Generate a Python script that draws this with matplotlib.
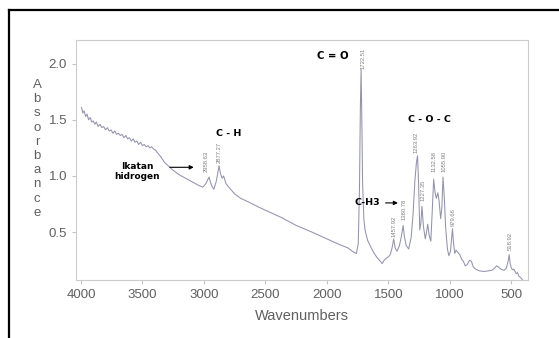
import numpy as np
import matplotlib.pyplot as plt
from matplotlib.lines import Line2D

plt.rcParams['font.family'] = ['Liberation Sans', 'DejaVu Sans']

# ----------------------------
# FTIR spectrum (wavenumber cm-1, absorbance)
# ----------------------------
wavenumber = [
    3995, 3985, 3975, 3962, 3950, 3938, 3925, 3912, 3900, 3887, 3875, 3860,
    3845, 3830, 3815, 3800, 3785, 3770, 3755, 3740, 3725, 3710, 3695, 3680,
    3665, 3650, 3635, 3620, 3605, 3590, 3575, 3560, 3545, 3530, 3515, 3500,
    3485, 3470, 3455, 3440, 3425, 3410, 3395, 3380, 3350, 3320, 3290, 3250,
    3200, 3150, 3100, 3050, 3010, 2985, 2958, 2940, 2920, 2900, 2877, 2865,
    2852, 2840, 2820, 2790, 2750, 2700, 2640, 2550, 2450, 2370, 2250, 2100,
    2000, 1900, 1830, 1780, 1760, 1745, 1735, 1728, 1722, 1716, 1710, 1700,
    1690, 1670, 1640, 1615, 1590, 1565, 1550, 1535, 1515, 1500, 1485, 1470,
    1457, 1445, 1430, 1410, 1395, 1380, 1370, 1355, 1335, 1315, 1300, 1285,
    1272, 1263, 1255, 1245, 1236, 1227, 1215, 1200, 1190, 1180, 1168, 1155,
    1145, 1132, 1120, 1110, 1098, 1088, 1075, 1065, 1056, 1045, 1035, 1020,
    1008, 995, 979, 970, 960, 950, 935, 920, 905, 890, 875, 860,
    840, 825, 810, 790, 760, 720, 690, 660, 640, 620, 605, 585,
    560, 540, 525, 518, 510, 500, 490, 480, 470, 460, 450, 440,
    430, 420, 410, 400,
]
absorbance = [
    1.61, 1.56, 1.58, 1.53, 1.55, 1.50, 1.52, 1.48, 1.49, 1.46, 1.48, 1.44,
    1.46, 1.43, 1.44, 1.41, 1.43, 1.40, 1.41, 1.38, 1.40, 1.37, 1.38, 1.36,
    1.37, 1.34, 1.36, 1.33, 1.34, 1.31, 1.33, 1.30, 1.31, 1.28, 1.30, 1.27,
    1.28, 1.26, 1.27, 1.25, 1.26, 1.24, 1.23, 1.21, 1.17, 1.12, 1.09, 1.05,
    1.01, 0.98, 0.95, 0.92, 0.90, 0.93, 0.99, 0.92, 0.88, 0.95, 1.09, 1.02,
    0.98, 1.00, 0.93, 0.89, 0.84, 0.80, 0.77, 0.72, 0.67, 0.63, 0.56, 0.49,
    0.44, 0.39, 0.36, 0.32, 0.31, 0.40, 0.90, 1.60, 1.95, 1.50, 0.95, 0.62,
    0.52, 0.43, 0.36, 0.31, 0.27, 0.24, 0.22, 0.25, 0.27, 0.28, 0.30, 0.36,
    0.44, 0.36, 0.33, 0.38, 0.46, 0.56, 0.46, 0.38, 0.35, 0.45, 0.65, 0.95,
    1.12, 1.18, 0.95, 0.52, 0.58, 0.73, 0.55, 0.44, 0.50, 0.57, 0.47, 0.42,
    0.65, 0.97, 0.85, 0.80, 0.85, 0.78, 0.62, 0.72, 0.99, 0.80, 0.55, 0.35,
    0.29, 0.33, 0.53, 0.40, 0.31, 0.34, 0.32, 0.30, 0.26, 0.24, 0.20, 0.21,
    0.25, 0.24, 0.19, 0.17, 0.155, 0.15, 0.155, 0.16, 0.175, 0.20, 0.19, 0.17,
    0.16, 0.18, 0.25, 0.30, 0.22, 0.18, 0.165, 0.17, 0.15, 0.13, 0.14, 0.11,
    0.10, 0.09, 0.075, 0.065,
]

# peak labels (rotated, small grey)
peak_labels = ['1722.51', '2958.63', '2877.27', '1457.92', '1380.78', '1263.92',
               '1227.35', '1132.58', '1055.90', '979.66', '518.92']
peak_label_x = [1708, 2981, 2875, 1457, 1376, 1278, 1221, 1131, 1050, 976, 512]
peak_label_y = [2.05, 1.13, 1.21, 0.55, 0.70, 1.30, 0.87, 1.13, 1.13, 0.63, 0.42]

# ----------------------------
# Plot
# ----------------------------
fig = plt.figure(figsize=(5.59, 3.38), dpi=100)
ax = fig.add_axes([0.136, 0.1716, 0.8085, 0.7101])

ax.plot(wavenumber, absorbance, color='#9292ae', linewidth=0.75)

ax.set_xlim(4040, 365)
ax.set_ylim(0.074, 2.21)
ax.set_xticks([4000, 3500, 3000, 2500, 2000, 1500, 1000, 500])
ax.set_yticks([0.5, 1.0, 1.5, 2.0])
ax.set_yticklabels(['0.5', '1.0', '1.5', '2.0'])

for s in ax.spines.values():
    s.set_color('#cccccc')
    s.set_linewidth(0.8)
ax.tick_params(colors='#c4c4c4', labelcolor='#606060', labelsize=9.5,
               length=3, width=0.8)
ax.set_xlabel('Wavenumbers', fontsize=10.5, color='#606060', labelpad=6)

# stacked y label
for k, ch in enumerate('Absorbance'):
    fig.text(37 / 559, 1 - (85 + k * 14.2) / 338, ch, fontsize=9.5,
             color='#606060', ha='center', va='center')

# group annotations
bold = dict(family='DejaVu Sans', fontweight='bold', color='black',
            ha='center', va='center')
ax.text(1954, 2.07, 'C = O', fontsize=7.3, **bold)
ax.text(2802, 1.38, 'C - H', fontsize=6.8, **bold)
ax.text(1164, 1.50, 'C - O - C', fontsize=6.8, **bold)
ax.text(3544, 1.04, 'Ikatan\nhidrogen', fontsize=6.5, linespacing=1.1, **bold)
ax.text(1669, 0.76, 'C-H3', fontsize=6.8, **bold)

arrow = dict(arrowstyle='-|>', color='black', lw=0.8, mutation_scale=6)
ax.annotate('', xy=(3060, 1.077), xytext=(3300, 1.077), arrowprops=arrow)
ax.annotate('', xy=(1400, 0.76), xytext=(1545, 0.76), arrowprops=arrow)

for lab, px, py in zip(peak_labels, peak_label_x, peak_label_y):
    ax.text(px, py, lab, rotation=90, fontsize=4.2, color='#808080',
            ha='center', va='center')

# black frame of the scanned figure (top and left edges)
fig.add_artist(Line2D([9 / 559, 1], [1 - 10 / 338, 1 - 10 / 338],
                      color='black', linewidth=1.6, transform=fig.transFigure))
fig.add_artist(Line2D([9 / 559, 9 / 559], [0, 1 - 10 / 338],
                      color='black', linewidth=1.6, transform=fig.transFigure))

fig.savefig('out.png', dpi=100)
